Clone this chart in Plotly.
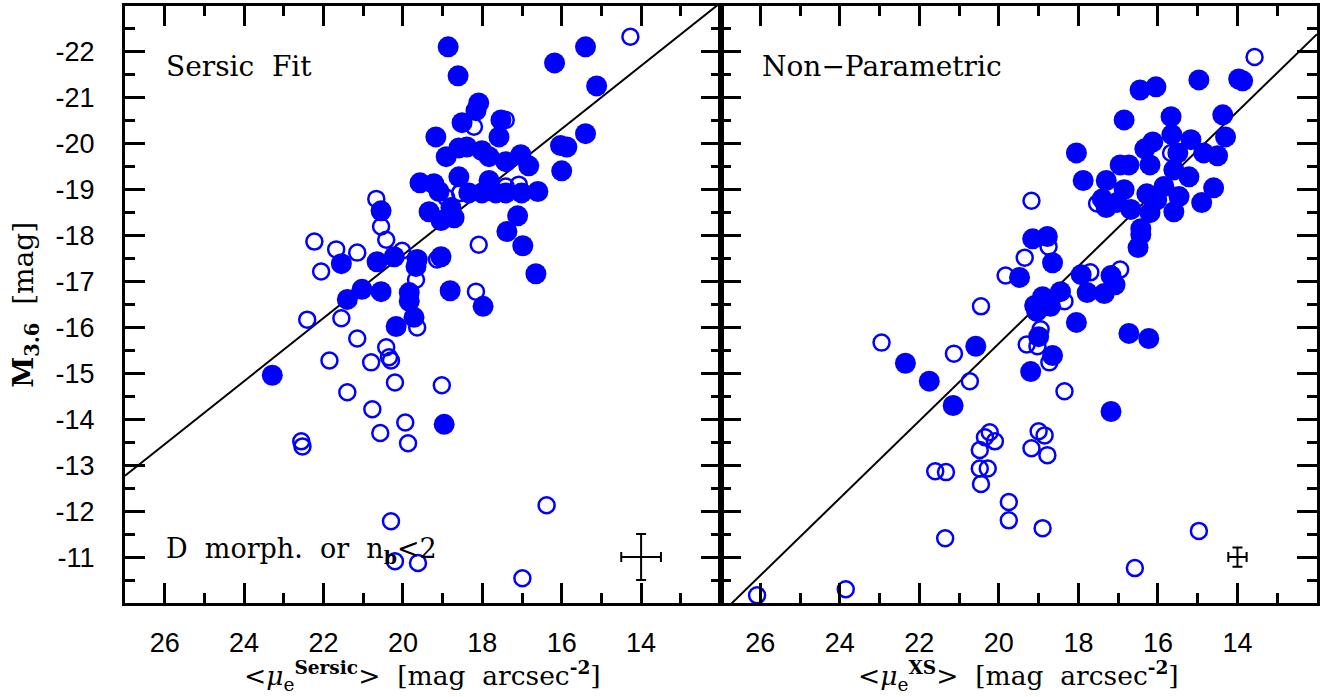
import plotly.graph_objects as go

# ---------------- data: left panel (Sersic fit) ----------------
sersic_filled_mu = [18.86, 18.61, 16.18, 15.40, 15.12, 18.09, 18.16, 18.51, 17.53, 17.58,
                    19.17, 18.91, 18.59, 18.39, 18.01, 17.83, 17.41, 17.03, 16.83, 16.03,
                    15.87, 15.40, 16.00, 18.59, 17.83, 18.34, 18.01, 17.66, 17.41, 17.01,
                    16.60, 19.57, 19.22, 19.09, 19.34, 19.04, 18.71, 18.79, 17.11, 17.38,
                    16.98, 16.65, 20.55, 21.55, 20.65, 20.22, 19.64, 19.67, 19.04, 21.40,
                    21.03, 20.55, 19.84, 19.84, 18.81, 17.98, 20.17, 19.72, 23.29, 18.96]
sersic_filled_M = [-22.11, -21.48, -21.76, -22.11, -21.26, -20.89, -20.72, -20.46, -20.52, -20.15,
                   -20.15, -19.72, -19.91, -19.93, -19.85, -19.72, -19.61, -19.76, -19.52, -19.96,
                   -19.93, -20.22, -19.41, -19.28, -19.20, -18.93, -18.93, -18.93, -18.93, -18.93,
                   -18.96, -19.15, -19.13, -18.96, -18.52, -18.33, -18.39, -18.61, -18.43, -18.09,
                   -17.78, -17.17, -18.54, -17.39, -17.43, -17.54, -17.48, -17.33, -17.54, -16.61,
                   -16.83, -16.78, -16.76, -16.57, -16.80, -16.46, -16.02, -16.22, -14.96, -13.89]
sersic_open_mu = [14.27, 18.21, 17.41, 18.56, 17.41, 17.08, 18.91, 20.67, 20.55, 20.42,
                  18.09, 22.23, 21.68, 21.15, 22.06, 20.02, 19.14, 19.67, 18.16, 22.41,
                  21.55, 19.64, 21.15, 20.42, 20.35, 20.30, 20.80, 21.85, 20.20, 19.02,
                  21.40, 20.77, 19.94, 20.57, 19.87, 22.56, 22.53, 16.38, 20.30, 20.20,
                  19.62, 16.99]
sersic_open_M = [-22.33, -20.37, -20.52, -18.93, -19.07, -19.11, -18.83, -18.80, -18.20, -17.91,
                 -17.80, -17.87, -17.70, -17.63, -17.22, -17.67, -17.48, -17.04, -16.78, -16.17,
                 -16.20, -16.00, -15.76, -15.57, -15.35, -15.28, -15.24, -15.28, -14.80, -14.74,
                 -14.59, -14.22, -13.93, -13.70, -13.48, -13.52, -13.41, -12.13, -11.78, -10.91,
                 -10.87, -10.54]

# ---------------- data: right panel (non-parametric) ----------------
xs_filled_mu = [16.45, 16.05, 14.97, 13.97, 13.87, 16.85, 15.67, 14.37, 14.30, 15.65,
                16.13, 16.33, 15.17, 15.50, 14.85, 14.50, 18.05, 17.88, 17.30, 16.95,
                16.73, 16.20, 15.60, 15.22, 14.60, 16.85, 17.40, 17.30, 16.28, 15.85,
                16.03, 15.47, 14.90, 16.68, 16.20, 15.60, 16.43, 16.43, 16.50, 17.03,
                19.15, 18.78, 18.65, 19.48, 17.93, 17.18, 17.78, 17.35, 17.08, 18.45,
                18.90, 19.10, 18.70, 19.05, 18.05, 16.73, 16.23, 19.00, 20.58, 18.65,
                19.20, 22.35, 21.75, 21.15, 17.18]
xs_filled_M = [-21.17, -21.24, -21.39, -21.41, -21.37, -20.52, -20.59, -20.63, -20.15, -20.20,
               -20.04, -19.89, -20.09, -19.80, -19.80, -19.74, -19.80, -19.20, -19.20, -19.54,
               -19.54, -19.54, -19.43, -19.28, -19.04, -19.00, -18.80, -18.61, -18.91, -19.07,
               -18.78, -18.85, -18.72, -18.57, -18.50, -18.52, -18.15, -18.02, -17.74, -18.72,
               -17.93, -17.98, -17.41, -17.09, -17.15, -17.13, -16.76, -16.74, -16.93, -16.78,
               -16.67, -16.48, -16.46, -16.35, -16.11, -15.87, -15.76, -15.80, -15.59, -15.39,
               -15.04, -15.22, -14.83, -14.30, -14.17]
xs_open_mu = [13.57, 15.67, 17.53, 19.18, 18.75, 19.35, 19.83, 17.70, 16.95, 18.35,
              20.45, 18.95, 19.30, 19.03, 22.95, 21.13, 18.73, 20.73, 18.35, 20.23,
              20.35, 20.10, 20.48, 19.00, 18.85, 19.18, 18.78, 21.60, 21.33, 20.48,
              20.28, 20.45, 19.75, 19.75, 18.90, 21.35, 14.97, 16.58, 23.85, 26.08]
xs_open_M = [-21.89, -19.80, -18.70, -18.76, -17.76, -17.52, -17.13, -17.20, -17.26, -16.57,
             -16.46, -15.96, -15.63, -15.59, -15.67, -15.43, -15.24, -14.83, -14.61, -13.72,
             -13.61, -13.52, -13.33, -13.74, -13.65, -13.37, -13.22, -12.87, -12.85, -12.93,
             -12.93, -12.59, -12.20, -11.80, -11.63, -11.41, -11.57, -10.76, -10.30, -10.17]

# fitted relations M = intercept + slope * mu
fit_sersic = {"slope": 0.6866, "intercept": -31.31}
fit_xs = {"slope": 0.842, "intercept": -32.49}

# typical error bars (mu, M, err_mu, err_M)
err_sersic = [14.0, -11.0, 0.5, 0.5]
err_xs = [14.0, -11.0, 0.23, 0.21]

# axes
x_range = [27, 12]
y_range = [-10, -23]
x_tickvals = [26, 24, 22, 20, 18, 16, 14]
x_ticktext = ["26", "24", "22", "20", "18", "16", "14"]
x_minor = [25, 23, 21, 19, 17, 15, 13]
y_tickvals = [-22, -21, -20, -19, -18, -17, -16, -15, -14, -13, -12, -11]
y_ticktext = ["-22", "-21", "-20", "-19", "-18", "-17", "-16", "-15", "-14", "-13", "-12", "-11"]
y_minor = [-22.5, -21.5, -20.5, -19.5, -18.5, -17.5, -16.5, -15.5, -14.5, -13.5, -12.5, -11.5, -10.5]

BLUE = "#0000FF"
fig = go.Figure()


def add_panel(xa, ya, fmu, fM, omu, oM, fit, err):
    line_mu = list(x_range)
    line_M = [fit["intercept"] + fit["slope"] * m for m in line_mu]
    fig.add_trace(go.Scatter(x=line_mu, y=line_M, mode="lines", xaxis=xa, yaxis=ya,
                             line=dict(color="black", width=2), showlegend=False,
                             hoverinfo="skip"))
    fig.add_trace(go.Scatter(x=omu, y=oM, mode="markers", xaxis=xa, yaxis=ya,
                             marker=dict(symbol="circle-open", size=16, color=BLUE,
                                         line=dict(width=2.5, color=BLUE)),
                             showlegend=False, cliponaxis=True))
    fig.add_trace(go.Scatter(x=fmu, y=fM, mode="markers", xaxis=xa, yaxis=ya,
                             marker=dict(symbol="circle", size=21, color=BLUE,
                                         line=dict(width=0)),
                             showlegend=False, cliponaxis=True))
    fig.add_trace(go.Scatter(x=[err[0]], y=[err[1]], mode="markers", xaxis=xa, yaxis=ya,
                             marker=dict(size=1, color="black", opacity=0),
                             error_x=dict(type="constant", value=err[2], color="black",
                                          thickness=2, width=5),
                             error_y=dict(type="constant", value=err[3], color="black",
                                          thickness=2, width=5),
                             showlegend=False))


add_panel("x", "y", sersic_filled_mu, sersic_filled_M, sersic_open_mu, sersic_open_M,
          fit_sersic, err_sersic)
add_panel("x2", "y2", xs_filled_mu, xs_filled_M, xs_open_mu, xs_open_M, fit_xs, err_xs)

split = 597 / 1195
tick_font = dict(family="Liberation Sans, Arial, sans-serif", size=27, color="black")

xcommon = dict(range=x_range, showgrid=False, zeroline=False, showline=True, linecolor="black",
               linewidth=3, mirror="ticks", ticks="inside", ticklen=20, tickwidth=2.5,
               tickcolor="black", tickmode="array", tickvals=x_tickvals, ticktext=x_ticktext,
               tickfont=tick_font, ticklabelstandoff=14,
               minor=dict(tickmode="array", tickvals=x_minor, ticks="inside", ticklen=10,
                          tickwidth=2.5, tickcolor="black", showgrid=False))
ycommon = dict(range=y_range, showgrid=False, zeroline=False, showline=True, linecolor="black",
               linewidth=3, mirror="ticks", ticks="inside", ticklen=20, tickwidth=2.5,
               tickcolor="black", tickmode="array", tickvals=y_tickvals, ticktext=y_ticktext,
               tickfont=tick_font, ticklabelstandoff=22,
               minor=dict(tickmode="array", tickvals=y_minor, ticks="inside", ticklen=10,
                          tickwidth=2.5, tickcolor="black", showgrid=False))

fig.update_layout(
    width=1323, height=697,
    margin=dict(l=125, r=3, t=6, b=94),
    paper_bgcolor="white", plot_bgcolor="white",
    xaxis=dict(domain=[0, split], anchor="y", **xcommon),
    xaxis2=dict(domain=[split, 1], anchor="y2", **xcommon),
    yaxis=dict(domain=[0, 1], anchor="x", **ycommon),
    yaxis2=dict(domain=[0, 1], anchor="x2", showticklabels=False, **ycommon),
)

serif = "DejaVu Serif, serif"
ann = [
    dict(text="Sersic  Fit", xref="x domain", yref="y domain", x=0.066, y=0.898,
         xanchor="left", yanchor="middle", showarrow=False,
         font=dict(family=serif, size=28, color="black")),
    dict(text="Non\u2212Parametric", xref="x2 domain", yref="y2 domain", x=0.066, y=0.898,
         xanchor="left", yanchor="middle", showarrow=False,
         font=dict(family=serif, size=28, color="black")),
    dict(text="D  morph.  or  n<sub><b>b</b></sub><2", xref="x domain", yref="y domain",
         x=0.066, y=0.088, xanchor="left", yanchor="middle", showarrow=False,
         font=dict(family=serif, size=27, color="black")),
    dict(text="&lt;<i>\u03bc</i><sub>e</sub><sup><b>Sersic</b></sup>&gt;  [mag  arcsec<sup><b>-2</b></sup>]",
         xref="paper", yref="paper", x=split / 2, y=-0.122, xanchor="center",
         yanchor="middle", showarrow=False, font=dict(family=serif, size=26.5, color="black")),
    dict(text="&lt;<i>\u03bc</i><sub>e</sub><sup><b>XS</b></sup>&gt;  [mag  arcsec<sup><b>-2</b></sup>]",
         xref="paper", yref="paper", x=(split + 1) / 2, y=-0.122, xanchor="center",
         yanchor="middle", showarrow=False, font=dict(family=serif, size=26.5, color="black")),
    dict(text="<b>M</b><sub><b>3.6</b></sub>  [mag]", xref="paper", yref="paper",
         x=-100 / 1195, y=0.5, xanchor="center", yanchor="middle", textangle=-90,
         showarrow=False, font=dict(family=serif, size=28, color="black")),
]
fig.update_layout(annotations=ann)

fig.write_html("out.html")
